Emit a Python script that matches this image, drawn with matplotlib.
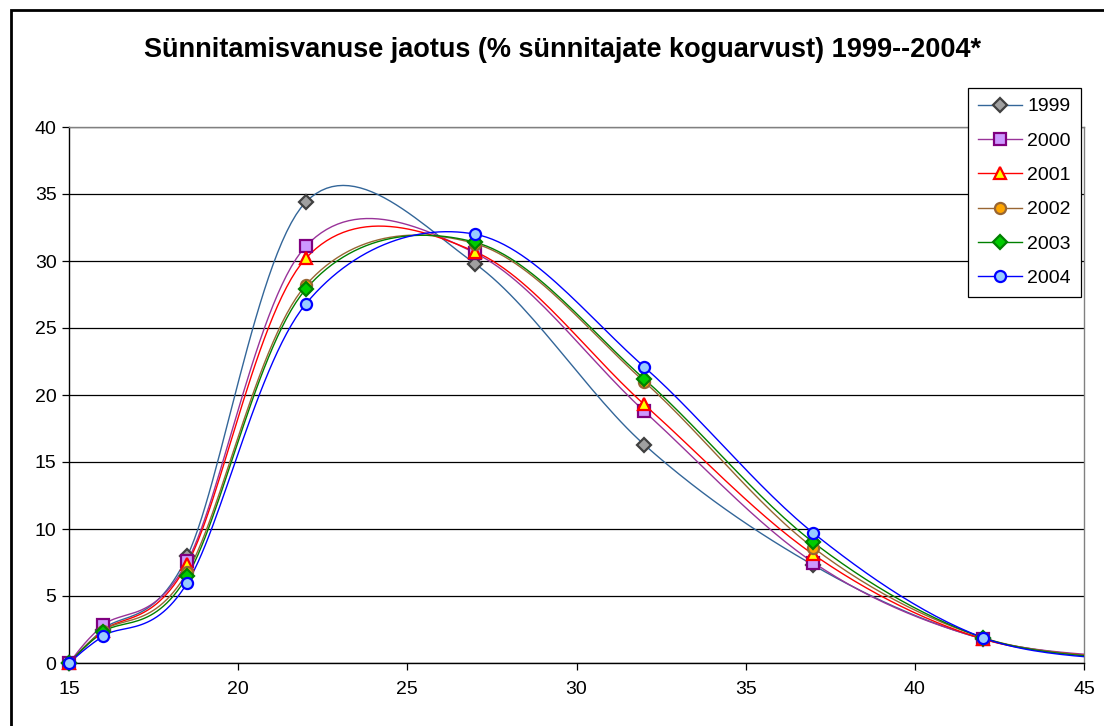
import numpy as np
import matplotlib
matplotlib.use("Agg")
import matplotlib.pyplot as plt
from matplotlib.patches import Rectangle
from matplotlib.lines import Line2D

plt.rcParams['font.family'] = ['Liberation Sans', 'DejaVu Sans']

ages = [15, 16, 18.5, 22, 27, 32, 37, 42, 47]
years = ['1999', '2000', '2001', '2002', '2003', '2004']
v1999 = [0.0, 2.5, 8.0, 34.4, 29.8, 16.3, 7.3, 1.8, 0.15]
v2000 = [0.0, 2.8, 7.6, 31.1, 30.6, 18.8, 7.5, 1.8, 0.3]
v2001 = [0.0, 2.4, 7.4, 30.2, 30.7, 19.3, 8.1, 1.8, 0.25]
v2002 = [0.0, 2.4, 6.8, 28.2, 31.3, 21.0, 8.6, 1.9, 0.2]
v2003 = [0.0, 2.3, 6.5, 27.9, 31.4, 21.2, 9.0, 1.9, 0.15]
v2004 = [0.0, 2.0, 6.0, 26.8, 32.0, 22.1, 9.7, 1.9, 0.1]
series = [v1999, v2000, v2001, v2002, v2003, v2004]

line_colors = ['#336699', '#993399', '#FF0000', '#996633', '#008000', '#0000FF']
face_colors = ['#A0A0A0', '#CC99FF', '#FFFF00', '#FFA500', '#00CC00', '#99CCFF']
edge_colors = ['#404040', '#800080', '#FF0000', '#996633', '#008000', '#0000FF']
markers = ['D', 's', '^', 'o', 'D', 'o']
msizes = [7.0, 8.0, 9.0, 8.0, 7.0, 8.0]


def smooth(xs, ys, n=30):
    P = np.column_stack([xs, ys]).astype(float)
    m = len(P)
    out = []
    for i in range(m - 1):
        p0 = P[i - 1] if i > 0 else P[i]
        p1 = P[i]
        p2 = P[i + 1]
        p3 = P[i + 2] if i + 2 < m else P[i + 1]
        c1 = p1 + (p2 - p0) / 6.0
        c2 = p2 - (p3 - p1) / 6.0
        t = np.linspace(0, 1, n)[:, None]
        b = ((1 - t) ** 3) * p1 + 3 * ((1 - t) ** 2) * t * c1 + 3 * (1 - t) * t ** 2 * c2 + t ** 3 * p2
        out.append(b if i == 0 else b[1:])
    B = np.vstack(out)
    return B[:, 0], B[:, 1]


fig = plt.figure(figsize=(11.04, 7.26), dpi=100)
ax = fig.add_axes([69 / 1104, 63 / 726, (1084 - 69) / 1104, (663 - 127) / 726])

handles = []
for vals, yr, lc, fc, ec, mk, ms in zip(series, years, line_colors, face_colors, edge_colors, markers, msizes):
    sx, sy = smooth(ages, vals)
    ax.plot(sx, sy, color=lc, lw=1.0, zorder=3)
    ax.plot(ages, vals, linestyle='none', marker=mk, ms=ms, mfc=fc, mec=ec, mew=1.6, zorder=4, clip_on=False)
    handles.append(Line2D([], [], color=lc, lw=1.0, marker=mk, ms=ms, mfc=fc, mec=ec, mew=1.6, label=yr))

ax.set_xlim(15, 45)
ax.set_ylim(0, 40)
ax.set_xticks([15, 20, 25, 30, 35, 40, 45])
ax.set_yticks(range(0, 41, 5))
ax.yaxis.grid(True, color='black', lw=0.9)
ax.set_axisbelow(True)
ax.tick_params(axis='both', labelsize=14, direction='out', length=5, width=0.9, color='black')
ax.tick_params(axis='x', pad=8)
ax.tick_params(axis='y', pad=4)
for s in ['left', 'bottom']:
    ax.spines[s].set_color('black')
    ax.spines[s].set_linewidth(1.0)
for s in ['top', 'right']:
    ax.spines[s].set_color('#808080')
    ax.spines[s].set_linewidth(1.0)

leg = ax.legend(handles=handles, loc='upper left', bbox_to_anchor=((968 - 69) / 1015, (663 - 88) / 536),
                fontsize=14, frameon=True, fancybox=False, edgecolor='black', framealpha=1,
                handlelength=2.3, labelspacing=0.86, borderpad=0.5, handletextpad=0.25, borderaxespad=0)
leg.get_frame().set_linewidth(0.9)
leg.set_zorder(10)

fig.text(562 / 1104, 1 - 50 / 726, 'Sünnitamisvanuse jaotus (% sünnitajate koguarvust) 1999--2004*',
         ha='center', va='center', fontsize=19.5, fontweight='bold')

fig.patches.append(Rectangle((11 / 1104, -0.1), 1.2, 1 - 10 / 726 + 0.1, transform=fig.transFigure,
                             fill=False, edgecolor='black', lw=2.0))

fig.savefig('out.png', dpi=100)
